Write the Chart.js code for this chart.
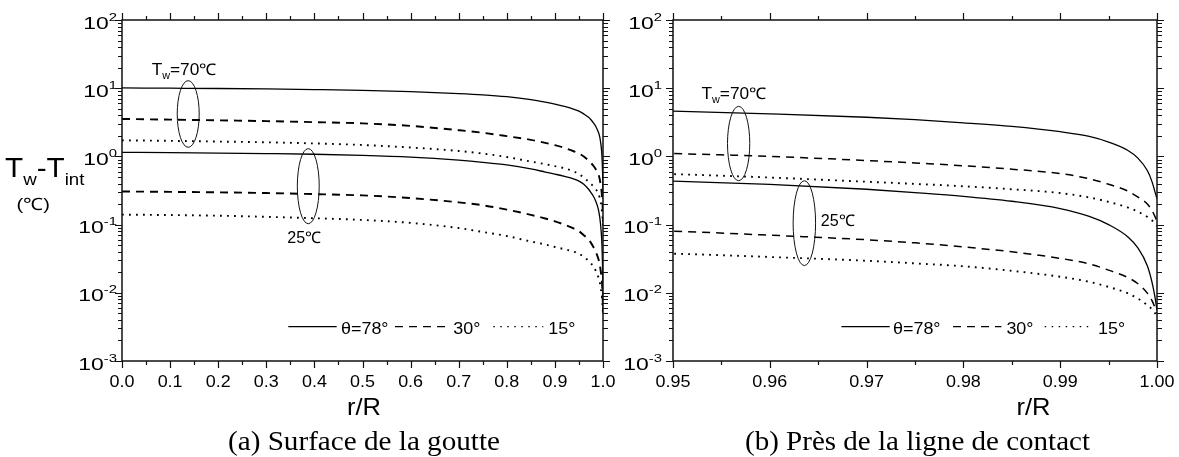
<!DOCTYPE html>
<html>
<head>
<meta charset="utf-8">
<script src="https://cdn.jsdelivr.net/npm/chart.js@4.4.1/dist/chart.umd.min.js"></script>
<style>
    html, body { margin: 0; padding: 0; background: #fff; }
    #lienzo { position: relative; width: 1179px; height: 457px; }
    canvas { position: absolute; left: 0; top: 0; }
</style>
</head>
<body>
<div id="lienzo">
    <canvas id="graficoA" width="1179" height="457"></canvas>
    <canvas id="graficoB" width="1179" height="457"></canvas>
</div>
<script>
// r/R
const radios = [0, 0.1, 0.2, 0.3, 0.4, 0.5, 0.6, 0.7, 0.75, 0.8, 0.85, 0.88, 0.9, 0.92, 0.94, 0.95, 0.96, 0.97, 0.975, 0.98, 0.985, 0.99, 0.993, 0.995, 0.997, 0.998, 0.999, 0.9995, 0.9998, 1.0];
// Tw = 70 °C
const t70_78 = [10.1, 10.0, 9.9, 9.75, 9.55, 9.3, 8.9, 8.35, 8.0, 7.5, 6.8, 6.25, 5.85, 5.4, 4.9, 4.6, 4.2, 3.75, 3.45, 3.1, 2.75, 2.3, 1.96, 1.62, 1.22, 0.95, 0.62, 0.42, 0.3, 0.24];
const t70_30 = [3.54, 3.46, 3.38, 3.29, 3.18, 3.05, 2.8, 2.42, 2.22, 1.98, 1.75, 1.58, 1.46, 1.33, 1.18, 1.1, 1.0, 0.87, 0.8, 0.73, 0.65, 0.56, 0.47, 0.39, 0.31, 0.255, 0.2, 0.16, 0.13, 0.11];
const t70_15 = [1.72, 1.69, 1.65, 1.61, 1.55, 1.47, 1.35, 1.2, 1.1, 0.98, 0.84, 0.77, 0.72, 0.67, 0.6, 0.55, 0.49, 0.425, 0.395, 0.365, 0.33, 0.29, 0.25, 0.215, 0.178, 0.155, 0.13, 0.115, 0.103, 0.095];
// Tw = 25 °C
const t25_78 = [1.145, 1.135, 1.12, 1.1, 1.075, 1.035, 0.975, 0.88, 0.82, 0.75, 0.655, 0.59, 0.55, 0.51, 0.465, 0.435, 0.39, 0.33, 0.295, 0.26, 0.22, 0.172, 0.132, 0.1, 0.066, 0.046, 0.025, 0.014, 0.0085, 0.0055];
const t25_30 = [0.306, 0.302, 0.297, 0.29, 0.28, 0.268, 0.245, 0.212, 0.192, 0.166, 0.139, 0.123, 0.1115, 0.0998, 0.087, 0.08, 0.07, 0.06, 0.054, 0.047, 0.04, 0.032, 0.0265, 0.0215, 0.0167, 0.0137, 0.0099, 0.0076, 0.006, 0.005];
const t25_15 = [0.14, 0.138, 0.135, 0.13, 0.124, 0.117, 0.106, 0.089, 0.078, 0.068, 0.0565, 0.051, 0.047, 0.0435, 0.04, 0.0375, 0.0335, 0.0295, 0.027, 0.0245, 0.021, 0.0172, 0.0145, 0.0122, 0.0098, 0.0083, 0.0066, 0.0057, 0.005, 0.0045];

// ejes
const ticksXA = [0, 0.1, 0.2, 0.3, 0.4, 0.5, 0.6, 0.7, 0.8, 0.9, 1.0];
const etiquetasXA = ['0.0', '0.1', '0.2', '0.3', '0.4', '0.5', '0.6', '0.7', '0.8', '0.9', '1.0'];
const menoresXA = [0.05, 0.15, 0.25, 0.35, 0.45, 0.55, 0.65, 0.75, 0.85, 0.95];
const ticksXB = [0.95, 0.96, 0.97, 0.98, 0.99, 1.0];
const etiquetasXB = ['0.95', '0.96', '0.97', '0.98', '0.99', '1.00'];
const menoresXB = [0.955, 0.965, 0.975, 0.985, 0.995];
const ticksY = [0.001, 0.01, 0.1, 1, 10, 100];
const exponentesY = ['-3', '-2', '-1', '0', '1', '2'];

// leyenda y anotaciones
const angulos = ['θ=78°', '30°', '15°'];
const etiquetaTw = '=70℃';
const etiqueta25 = '25℃';

const FUENTE = '"Liberation Sans", Arial, sans-serif';
const SERIF = '"Liberation Serif", "Times New Roman", serif';

function texto(ctx, s, x, y, tam, op = {}) {
    ctx.font = tam + 'px ' + (op.serif ? SERIF : FUENTE);
    const w0 = ctx.measureText(s).width;
    const sx = op.ancho ? op.ancho / w0 : (op.sx || 1);
    const w = w0 * sx;
    const x0 = op.align === 'center' ? x - w / 2 : op.align === 'right' ? x - w : x;
    ctx.save();
    ctx.translate(x0, y);
    ctx.scale(sx, 1);
    ctx.textAlign = 'left';
    ctx.textBaseline = 'alphabetic';
    ctx.fillStyle = '#000';
    ctx.fillText(s, 0, 0);
    ctx.restore();
    return w;
}

// partes: [{t, tam, dy}]
function textoRico(ctx, partes, x, y, sx, align) {
    let total = 0;
    partes.forEach(p => { ctx.font = p.tam + 'px ' + FUENTE; total += ctx.measureText(p.t).width * sx; });
    let cx = align === 'right' ? x - total : align === 'center' ? x - total / 2 : x;
    partes.forEach(p => { cx += texto(ctx, p.t, cx, y + (p.dy || 0), p.tam, { sx: sx }); });
    return total;
}

function lineaMuestra(ctx, x0, x1, y, dash, ancho) {
    ctx.save();
    ctx.strokeStyle = '#000';
    ctx.lineWidth = ancho;
    ctx.setLineDash(dash);
    ctx.beginPath();
    ctx.moveTo(x0, y);
    ctx.lineTo(x1, y);
    ctx.stroke();
    ctx.restore();
}

function crearMarco(cfg) {
    return {
        id: 'marco' + cfg.nombre,
        afterDraw(chart) {
            const ctx = chart.ctx;
            const a = chart.chartArea;
            const sx = chart.scales.x, sy = chart.scales.y;
            ctx.save();
            ctx.strokeStyle = '#111';
            ctx.lineWidth = 1.5;
            ctx.strokeRect(a.left, a.top, a.right - a.left, a.bottom - a.top);

            ctx.lineWidth = 1.2;
            ctx.beginPath();
            cfg.ticksX.forEach(v => {
                const px = Math.round(sx.getPixelForValue(v)) + 0.5;
                ctx.moveTo(px, a.bottom); ctx.lineTo(px, a.bottom + 7);
                ctx.moveTo(px, a.top); ctx.lineTo(px, a.top - 7);
            });
            cfg.menoresX.forEach(v => {
                const px = Math.round(sx.getPixelForValue(v)) + 0.5;
                ctx.moveTo(px, a.bottom); ctx.lineTo(px, a.bottom + 4);
                ctx.moveTo(px, a.top); ctx.lineTo(px, a.top - 4);
            });
            ticksY.forEach(v => {
                const py = Math.round(sy.getPixelForValue(v)) + 0.5;
                ctx.moveTo(a.left - 7, py); ctx.lineTo(a.left, py);
                ctx.moveTo(a.right, py); ctx.lineTo(a.right + 7, py);
            });
            for (let e = -3; e < 2; e++) {
                for (let m = 2; m <= 9; m++) {
                    const py = Math.round(sy.getPixelForValue(m * Math.pow(10, e))) + 0.5;
                    ctx.moveTo(a.left - 4, py); ctx.lineTo(a.left, py);
                    ctx.moveTo(a.right, py); ctx.lineTo(a.right + 5, py);
                }
            }
            ctx.stroke();

            // etiquetas de los ejes
            cfg.ticksX.forEach((v, i) => {
                texto(ctx, cfg.etiquetasX[i], sx.getPixelForValue(v), a.bottom + 26, 16, { align: 'center', sx: 1.12 });
            });
            ticksY.forEach((v, i) => {
                const py = sy.getPixelForValue(v);
                textoRico(ctx, [{ t: '10', tam: 17 }, { t: exponentesY[i], tam: 11, dy: -8 }], a.left - cfg.holguraY, py + 8.5, 1.35, 'right');
            });

            texto(ctx, 'r/R', cfg.xTitulo, a.bottom + 54, 24, { align: 'center', ancho: 34 });
            texto(ctx, cfg.pie, cfg.xPie, 450, 27, { serif: true, align: 'center', ancho: cfg.anchoPie });

            // leyenda
            const L = cfg.leyenda;
            const yl = a.top + 306.7, yt = a.top + 313.5;
            lineaMuestra(ctx, a.left + L[0], a.left + L[1], yl, [], 1.2);
            texto(ctx, angulos[0], a.left + L[2], yt, 16, { sx: 1.12 });
            lineaMuestra(ctx, a.left + L[3], a.left + L[4], yl, [8, 6], 1.3);
            texto(ctx, angulos[1], a.left + L[5], yt, 16, { sx: 1.12 });
            lineaMuestra(ctx, a.left + L[6], a.left + L[7], yl, [1.5, 5.5], 1.3);
            texto(ctx, angulos[2], a.left + L[8], yt, 16, { sx: 1.12 });

            // anotaciones
            ctx.lineWidth = 1;
            ctx.strokeStyle = '#111';
            cfg.elipses.forEach(el => {
                const x0 = sx.getPixelForValue(el.x[0]), x1 = sx.getPixelForValue(el.x[1]);
                const y0 = sy.getPixelForValue(el.y[0]), y1 = sy.getPixelForValue(el.y[1]);
                ctx.beginPath();
                ctx.ellipse((x0 + x1) / 2, (y0 + y1) / 2, Math.abs(x1 - x0) / 2, Math.abs(y1 - y0) / 2, 0, 0, Math.PI * 2);
                ctx.stroke();
            });
            const tw = cfg.textoTw, t25 = cfg.texto25;
            textoRico(ctx, [{ t: 'T', tam: 16 }, { t: 'w', tam: 10, dy: 4 }, { t: etiquetaTw, tam: 16 }],
                sx.getPixelForValue(tw[0]), sy.getPixelForValue(tw[1]), 1.08, 'left');
            texto(ctx, etiqueta25, sx.getPixelForValue(t25[0]), sy.getPixelForValue(t25[1]), 16, { ancho: 34 });

            if (cfg.tituloY) {
                textoRico(ctx, [{ t: 'T', tam: 27 }, { t: 'w', tam: 17, dy: 8.5 }, { t: '-T', tam: 27 }, { t: 'int', tam: 17, dy: 8.5 }], 5, 176.7, 1.1, 'left');
                texto(ctx, '(℃)', 16.5, 210, 17, { ancho: 33.5 });
            }
            ctx.restore();
        }
    };
}

function conjuntos(anchoGuion) {
    const estilo = (valores, tipo) => ({
        data: radios.map((r, i) => ({ x: r, y: valores[i] })),
        borderColor: '#000',
        borderWidth: tipo === 'solido' ? 1.3 : (tipo === 'guion' ? anchoGuion : 1.9),
        borderDash: tipo === 'solido' ? [] : (tipo === 'guion' ? [8, 6] : [1.8, 5.2]),
        borderCapStyle: 'butt',
        pointRadius: 0,
        fill: false,
        cubicInterpolationMode: 'monotone',
    });
    return [
        estilo(t70_78, 'solido'), estilo(t70_30, 'guion'), estilo(t70_15, 'punto'),
        estilo(t25_78, 'solido'), estilo(t25_30, 'guion'), estilo(t25_15, 'punto'),
    ];
}

function crearGrafico(id, xMin, xMax, relleno, anchoGuion, cfg) {
    return new Chart(document.getElementById(id).getContext('2d'), {
        type: 'line',
        data: { datasets: conjuntos(anchoGuion) },
        options: {
            responsive: false,
            animation: false,
            devicePixelRatio: 1,
            layout: { padding: relleno },
            scales: {
                x: { type: 'linear', min: xMin, max: xMax, display: false },
                y: { type: 'logarithmic', min: 0.001, max: 100, display: false },
            },
            plugins: { legend: { display: false }, tooltip: { enabled: false } },
        },
        plugins: [crearMarco(cfg)],
    });
}

crearGrafico('graficoA', 0, 1, { left: 122, top: 20, right: 576, bottom: 96 }, 1.9, {
    nombre: 'A',
    ticksX: ticksXA, etiquetasX: etiquetasXA, menoresX: menoresXA,
    holguraY: 5,
    xTitulo: 364, pie: '(a) Surface de la goutte', xPie: 364, anchoPie: 272,
    leyenda: [166.3, 214.7, 219, 273, 323, 331.3, 371.3, 421.3, 426.3],
    elipses: [
        { x: [0.1148, 0.1605], y: [1.36, 12.9] },
        { x: [0.3645, 0.410], y: [0.103, 1.30] },
    ],
    textoTw: [0.0617, 15.8],
    texto25: [0.3437, 0.0536],
    tituloY: true,
});

crearGrafico('graficoB', 0.95, 1.0, { left: 673, top: 20, right: 22, bottom: 96 }, 1.5, {
    nombre: 'B',
    ticksX: ticksXB, etiquetasX: etiquetasXB, menoresX: menoresXB,
    holguraY: 11,
    xTitulo: 1033.4, pie: '(b) Près de la ligne de contact', xPie: 917.5, anchoPie: 345,
    leyenda: [168.4, 216.7, 220, 280, 328.4, 333.4, 371.7, 419.7, 425],
    elipses: [
        { x: [0.95563, 0.95793], y: [0.44, 5.42] },
        { x: [0.96241, 0.96473], y: [0.0251, 0.44] },
    ],
    textoTw: [0.95294, 6.96],
    texto25: [0.96527, 0.0962],
    tituloY: false,
});
</script>
</body>
</html>
